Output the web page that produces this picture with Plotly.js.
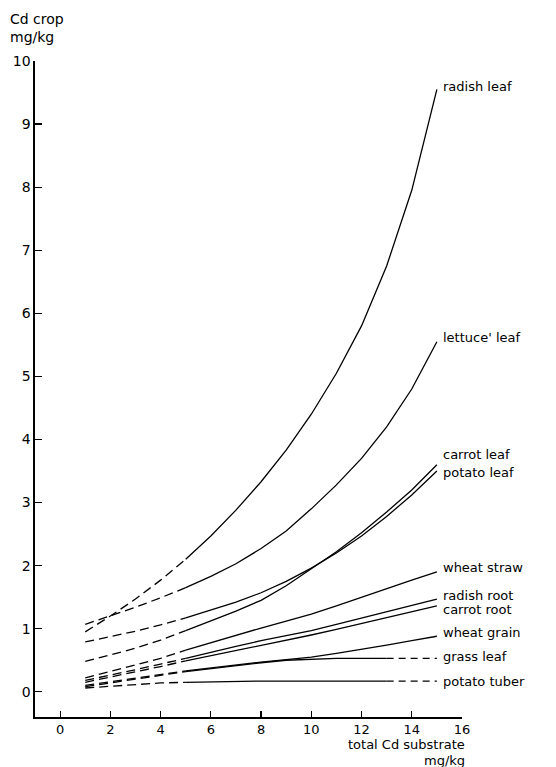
<!DOCTYPE html>
<html>
<head>
<meta charset="utf-8">
<script src="https://cdn.plot.ly/plotly-3.0.1.min.js"></script>
<style>
  html, body { margin: 0; padding: 0; background: #fff; }
  #chart { width: 556px; height: 767px; }
</style>
</head>
<body>
<div id="chart"></div>
<script>
// total Cd substrate (mg/kg)
const substrate = [1, 2, 3, 4, 5, 6, 7, 8, 9, 10, 11, 12, 13, 14, 15];

// Cd in crop (mg/kg), one array per crop
const radishLeaf  = [0.95, 1.20, 1.47, 1.77, 2.10, 2.47, 2.88, 3.33, 3.83, 4.40, 5.05, 5.80, 6.75, 7.95, 9.55];
const lettuceLeaf = [1.07, 1.20, 1.34, 1.49, 1.65, 1.83, 2.03, 2.27, 2.55, 2.90, 3.28, 3.70, 4.20, 4.80, 5.55];
const carrotLeaf  = [0.48, 0.58, 0.69, 0.82, 0.97, 1.12, 1.28, 1.45, 1.68, 1.95, 2.22, 2.52, 2.85, 3.20, 3.60];
const potatoLeaf  = [0.79, 0.87, 0.96, 1.06, 1.17, 1.29, 1.42, 1.57, 1.75, 1.96, 2.20, 2.47, 2.78, 3.12, 3.50];
const wheatStraw  = [0.22, 0.32, 0.42, 0.53, 0.66, 0.78, 0.90, 1.01, 1.12, 1.23, 1.36, 1.50, 1.63, 1.77, 1.90];
const radishRoot  = [0.18, 0.26, 0.35, 0.44, 0.53, 0.63, 0.72, 0.81, 0.89, 0.97, 1.07, 1.17, 1.27, 1.37, 1.47];
const carrotRoot  = [0.15, 0.23, 0.31, 0.40, 0.49, 0.57, 0.65, 0.73, 0.81, 0.90, 0.99, 1.08, 1.17, 1.27, 1.36];
const wheatGrain  = [0.10, 0.16, 0.22, 0.28, 0.33, 0.38, 0.43, 0.47, 0.51, 0.55, 0.61, 0.67, 0.74, 0.81, 0.88];
const grassLeaf   = [0.08, 0.14, 0.20, 0.26, 0.32, 0.37, 0.42, 0.46, 0.50, 0.52, 0.53, 0.53, 0.53, 0.53, 0.53];
const potatoTuber = [0.06, 0.09, 0.12, 0.14, 0.15, 0.16, 0.17, 0.17, 0.17, 0.17, 0.17, 0.17, 0.17, 0.17, 0.17];

const seriesNames = ["radish leaf", "lettuce' leaf", "carrot leaf", "potato leaf", "wheat straw",
                     "radish root", "carrot root", "wheat grain", "grass leaf", "potato tuber"];
const seriesValues = [radishLeaf, lettuceLeaf, carrotLeaf, potatoLeaf, wheatStraw,
                      radishRoot, carrotRoot, wheatGrain, grassLeaf, potatoTuber];
// end index of the solid part (the rest after it is dashed again)
const solidEnd = [14, 14, 14, 14, 14, 14, 14, 14, 12, 12];
// vertical label nudges in px
const labelShift = [3, 4, 10, -1, 4, 4, -4, 4, 2, 0];

const xTicks = [0, 2, 4, 6, 8, 10, 12, 14, 16];
const yTicks = [0, 1, 2, 3, 4, 5, 6, 7, 8, 9, 10];

const FONT = "DejaVu Sans";
const dashStart = 4; // index where solid starts (x = 5)

const traces = [];
const annotations = [];
seriesValues.forEach((vals, i) => {
  const seg = (a, b, dash) => ({
    x: substrate.slice(a, b + 1), y: vals.slice(a, b + 1),
    mode: "lines", type: "scatter", hoverinfo: "skip", showlegend: false,
    line: { color: "#000", width: 1.3, dash: dash, shape: "linear" }
  });
  traces.push(seg(0, dashStart, "9px,5px"));
  traces.push(seg(dashStart, solidEnd[i], "solid"));
  if (solidEnd[i] < vals.length - 1) traces.push(seg(solidEnd[i], vals.length - 1, "7px,5px"));
  annotations.push({
    x: substrate[substrate.length - 1], y: vals[vals.length - 1], xref: "x", yref: "y",
    text: seriesNames[i], showarrow: false, xanchor: "left", yanchor: "middle",
    xshift: 4, yshift: labelShift[i],
    font: { family: FONT, size: 13, color: "#000" }
  });
});

annotations.push({
  xref: "paper", yref: "paper", x: -0.063, y: 1.021, xanchor: "left", yanchor: "bottom",
  text: "Cd crop<br>mg/kg", showarrow: false, align: "left",
  font: { family: FONT, size: 14, color: "#000" }
});
annotations.push({
  xref: "paper", yref: "paper", x: 1.012, y: -0.0425, xanchor: "right", yanchor: "middle",
  text: "total Cd substrate", showarrow: false, align: "right",
  font: { family: FONT, size: 13, color: "#000" }
});
annotations.push({
  xref: "paper", yref: "paper", x: 1.012, y: -0.066, xanchor: "right", yanchor: "middle",
  text: "mg/kg", showarrow: false, align: "right",
  font: { family: FONT, size: 13, color: "#000" }
});

const layout = {
  width: 556, height: 767,
  margin: { l: 35, r: 94, t: 61, b: 50 },
  paper_bgcolor: "#fff", plot_bgcolor: "#fff",
  font: { family: FONT, size: 13, color: "#000" },
  showlegend: false,
  xaxis: {
    range: [-1, 16], tickvals: xTicks, ticktext: xTicks.map(String),
    ticks: "inside", ticklen: 6, tickcolor: "#000", tickwidth: 1.2,
    showline: true, linecolor: "#000", linewidth: 1.6,
    showgrid: false, zeroline: false, ticklabelstandoff: 0,
    tickfont: { family: FONT, size: 13, color: "#000" }
  },
  yaxis: {
    range: [-0.4, 10], tickvals: yTicks, ticktext: yTicks.map(String),
    ticks: "inside", ticklen: 7, tickcolor: "#000", tickwidth: 1.2,
    showline: true, linecolor: "#000", linewidth: 1.6,
    showgrid: false, zeroline: false,
    tickfont: { family: FONT, size: 14, color: "#000" }
  },
  annotations: annotations
};

Plotly.newPlot("chart", traces, layout, { displayModeBar: false, staticPlot: true });
</script>
</body>
</html>
